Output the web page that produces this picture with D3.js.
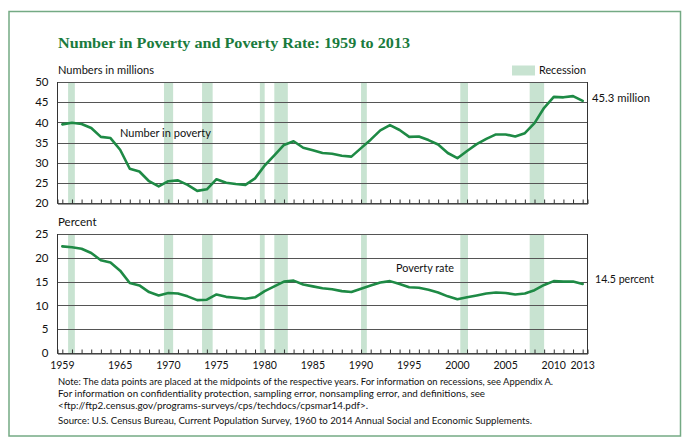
<!DOCTYPE html>
<html>
<head>
<meta charset="utf-8">
<script src="https://cdn.jsdelivr.net/npm/d3@7"></script>
<style>
  html, body { margin: 0; padding: 0; background: #fff; }
  svg { display: block; }
  .sans { font-family: Lato, "Open Sans", sans-serif; fill: #111; }
</style>
</head>
<body>
<svg id="chart" width="690" height="447"></svg>
<script>
// ---- Data ----
const years = d3.range(1959, 2014);
const numberInPoverty = [
  39.5, 39.9, 39.6, 38.6, 36.4, 36.1, 33.2, 28.5, 27.8, 25.4,
  24.1, 25.4, 25.6, 24.5, 23.0, 23.4, 25.9, 25.0, 24.7, 24.5,
  26.1, 29.3, 31.8, 34.4, 35.3, 33.7, 33.1, 32.4, 32.2, 31.7,
  31.5, 33.6, 35.7, 38.0, 39.3, 38.1, 36.4, 36.5, 35.6, 34.5,
  32.4, 31.1, 32.9, 34.6, 35.9, 37.0, 37.0, 36.5, 37.3, 39.8,
  43.6, 46.3, 46.2, 46.5, 45.3
];
const povertyRate = [
  22.4, 22.2, 21.9, 21.0, 19.5, 19.0, 17.3, 14.7, 14.2, 12.8,
  12.1, 12.6, 12.5, 11.9, 11.1, 11.2, 12.3, 11.8, 11.6, 11.4,
  11.7, 13.0, 14.0, 15.0, 15.2, 14.4, 14.0, 13.6, 13.4, 13.0,
  12.8, 13.5, 14.2, 14.8, 15.1, 14.5, 13.8, 13.7, 13.3, 12.7,
  11.9, 11.3, 11.7, 12.1, 12.5, 12.7, 12.6, 12.3, 12.5, 13.2,
  14.3, 15.1, 15.0, 15.0, 14.5
];
const recessionStarts = [1960.1, 1970.05, 1974.0, 1980.0, 1981.5, 1990.5, 2000.8, 2008.0];
const recessionEnds   = [1960.8, 1971.0, 1975.1, 1980.5, 1982.9, 1991.1, 2001.6, 2009.5];
const xTickLabels = [1959, 1965, 1970, 1975, 1980, 1985, 1990, 1995, 2000, 2005, 2010, 2013];
const topTicks = [20, 25, 30, 35, 40, 45, 50];
const bottomTicks = [0, 5, 10, 15, 20, 25];
const titleText = "Number in Poverty and Poverty Rate: 1959 to 2013";
const noteLines = [
  "Note: The data points are placed at the midpoints of the respective years. For information on recessions, see Appendix A.",
  "For information on confidentiality protection, sampling error, nonsampling error, and definitions, see",
  "<ftp://ftp2.census.gov/programs-surveys/cps/techdocs/cpsmar14.pdf>."
];
const sourceLine = "Source: U.S. Census Bureau, Current Population Survey, 1960 to 2014 Annual Social and Economic Supplements.";

// ---- Layout ----
const svg = d3.select("#chart");
const L = 57.5, R = 587.5;
const GREEN = "#1e8a45", REC = "#c8e3d1", GRID = "#555";

const x = d3.scaleLinear().domain([1959, 2014]).range([L, R]);
const yTop = d3.scaleLinear().domain([20, 50]).range([203, 82]);
const yBot = d3.scaleLinear().domain([0, 25]).range([353, 234]);

// outer border
svg.append("rect").attr("x", 9).attr("y", 11.5).attr("width", 671.5).attr("height", 424.5)
  .attr("fill", "none").attr("stroke", "#74aa84").attr("stroke-width", 1.5);

// title
svg.append("text").attr("x", 58).attr("y", 48)
  .attr("textLength", 352).attr("lengthAdjust", "spacingAndGlyphs")
  .style("font-family", '"Liberation Serif", serif').style("font-weight", "bold")
  .style("font-size", "15.5px").style("fill", "#1a7b3d")
  .text(titleText);

function panel(yScale, ticks, values, opts) {
  const g = svg.append("g");
  const [y0, y1] = yScale.range();
  // recessions
  g.selectAll("rect.rec").data(recessionStarts).join("rect")
    .attr("x", (d) => x(d))
    .attr("width", (d, i) => x(recessionEnds[i]) - x(d))
    .attr("y", y1).attr("height", y0 - y1)
    .attr("fill", REC);
  // gridlines
  g.selectAll("line.grid").data(ticks).join("line")
    .attr("x1", L).attr("x2", R)
    .attr("y1", (d) => Math.round(yScale(d)) + 0.5).attr("y2", (d) => Math.round(yScale(d)) + 0.5)
    .attr("stroke", GRID).attr("stroke-width", 1);
  // left/right borders
  g.append("line").attr("x1", L).attr("x2", L).attr("y1", y1).attr("y2", y0 + 0.5)
    .attr("stroke", "#333").attr("stroke-width", 1);
  g.append("line").attr("x1", R).attr("x2", R).attr("y1", y1).attr("y2", y0 + 0.5)
    .attr("stroke", "#333").attr("stroke-width", 1);
  // bottom axis with upward ticks
  const axis = d3.axisBottom(x).tickValues(years.map((d) => d + 0.5)).tickSize(-4).tickFormat("");
  const ag = g.append("g").attr("transform", `translate(0,${Math.round(y0) + 0.5})`).call(axis);
  ag.select(".domain").attr("stroke", "#333");
  ag.selectAll(".tick line").attr("stroke", "#333");
  // y tick labels
  const yaxis = d3.axisLeft(yScale).tickValues(ticks).tickSize(0).tickPadding(9);
  const yg = g.append("g").attr("transform", `translate(${L},0)`).call(yaxis);
  yg.select(".domain").remove();
  yg.selectAll("text").attr("class", "sans").style("font-size", "11.5px").style("fill", "#111")
    .style("font-family", 'Lato, "Open Sans", sans-serif');
  // line
  const line = d3.line().x((d, i) => x(years[i] + 0.5)).y((d) => yScale(d));
  g.append("path").datum(values).attr("d", line)
    .attr("fill", "none").attr("stroke", GREEN).attr("stroke-width", 2.6)
    .attr("stroke-linejoin", "round").attr("stroke-linecap", "round");
  return g;
}

panel(yTop, topTicks, numberInPoverty);
panel(yBot, bottomTicks, povertyRate);

const label = (t, xx, yy, size, extra) => {
  const el = svg.append("text").attr("class", "sans").attr("x", xx).attr("y", yy)
    .style("font-size", size + "px").text(t);
  if (extra) el.attr("textLength", extra).attr("lengthAdjust", "spacingAndGlyphs");
  return el;
};

label("Numbers in millions", 58, 74, 11.5, 96);
label("Percent", 58, 226, 11.5);
label("Number in poverty", 120, 137, 11.5, 91);
label("Poverty rate", 396, 272, 11.5, 58);

// end labels
label(numberInPoverty[numberInPoverty.length - 1] + " million", 592, 102, 11.5, 58);
label(povertyRate[povertyRate.length - 1] + " percent", 595, 283, 11.5, 59);

// legend
svg.append("rect").attr("x", 512).attr("y", 65.5).attr("width", 23).attr("height", 10).attr("fill", REC);
label("Recession", 539, 74, 11.5, 47);

// x labels
svg.selectAll("text.xl").data(xTickLabels).join("text")
  .attr("class", "sans").attr("x", (d) => x(d + 0.5)).attr("y", 368.5)
  .attr("text-anchor", "middle").style("font-size", "10.5px").text((d) => d);

// notes
const noteY = [385, 397, 409];
const noteW = [495, 427, 310];
noteLines.forEach((t, i) => label(t, 58, noteY[i], 9.5, noteW[i]));
label(sourceLine, 58, 424, 9.5, 474);
</script>
</body>
</html>
